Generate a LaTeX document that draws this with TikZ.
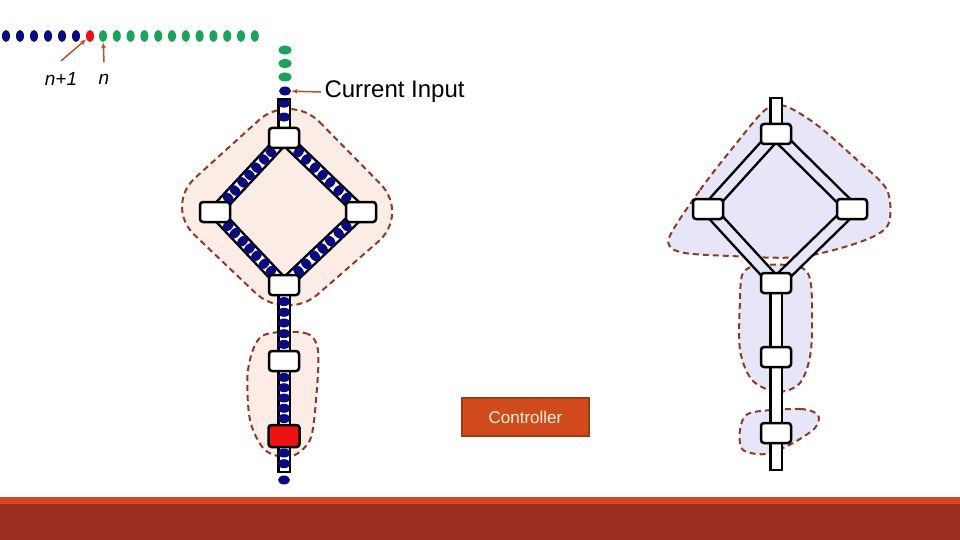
\documentclass[tikz,border=0pt]{standalone}
\usepackage{fontspec}
\setmainfont{Liberation Sans}
\usetikzlibrary{arrows.meta, shapes.geometric}

\definecolor{chainblue}{HTML}{0B0B7F}
\definecolor{bitgreen}{HTML}{1BA35A}
\definecolor{bitred}{HTML}{EE1111}
\definecolor{hullpink}{HTML}{FBECE6}
\definecolor{hullblue}{HTML}{E6E6F8}
\definecolor{hullline}{HTML}{8E3B24}
\definecolor{arrowbrown}{HTML}{C0502A}
\definecolor{ctrlfill}{HTML}{D04A1C}
\definecolor{ctrlborder}{HTML}{A03A14}
\definecolor{ctrltext}{HTML}{FFF1DC}
\definecolor{barorange}{HTML}{D24A1F}
\definecolor{barred}{HTML}{9B2D20}

\pgfdeclarelayer{hulls}
\pgfdeclarelayer{tracks}
\pgfsetlayers{hulls,tracks,main}

\tikzset{
  cell/.style={draw, line width=2.5, rounded corners=3, fill=white, minimum width=30, minimum height=20, inner sep=0},
  hull/.style={draw=hullline, line width=2, dash pattern=on 6pt off 4pt},
  track/.style={line width=2.5, double=white, double distance=9},
  bit/.style={ellipse, fill=#1, inner sep=0, minimum width=8, minimum height=12},
  tbit/.style={ellipse, fill=chainblue, inner sep=0, minimum width=9, minimum height=12.5, sloped},
  pointer/.style={arrowbrown, line width=1.5, -{Latex[length=6, width=5]}},
}

\begin{document}
\begin{tikzpicture}[x=1pt, y=-1pt]
    \useasboundingbox (0,0) rectangle (960,540);
    % barra inferior
    \fill[barorange] (0,497) rectangle (960,504);
    \fill[barred] (0,504) rectangle (960,540);

    % fila de bits
    \foreach \i in {0,...,5}
        \node[bit=chainblue] (b\i) at (6+14*\i,36) {};
    \node[bit=bitred] (bn1) at (90,36) {};
    \foreach \k in {0,...,11}
        \node[bit=bitgreen] (g\k) at (103+13.8*\k,36) {};
    \foreach \k/\y in {0/50,1/63.5,2/77}
        \node[bit=bitgreen, minimum width=13, minimum height=9] (c\k) at (285,\y) {};
    \node[bit=chainblue, minimum width=12, minimum height=9] (cur) at (285,91) {};

    \node[font=\itshape\fontsize{19}{19}\selectfont] (np1) at (61,79) {n+1};
    \node[font=\itshape\fontsize{19}{19}\selectfont] (nn) at (104,79) {n};
    \draw[pointer] ([yshift=8]np1.north) -- (bn1);
    \draw[pointer] ([yshift=8]nn.north) -- (g0);

    \node[anchor=west, font=\fontsize{24}{24}\selectfont] (curtxt) at (321,92) {Current Input};
    \draw[pointer] (curtxt.west) -- (cur);

    % cadena izquierda
    \node[cell] (ltop) at (284,138) {};
    \node[cell] (lleft) at (215,212) {};
    \node[cell] (lright) at (361,212) {};
    \node[cell] (lbot) at (284,285) {};
    \node[cell] (lmid) at (284,361) {};
    \node[cell, fill=bitred, minimum width=31, minimum height=22] (lred) at (284,436) {};
    \coordinate (ltopend) at (284,99);
    \coordinate (lend) at (284,472);
    \node[bit=chainblue, minimum width=12, minimum height=9] (lout) at (284,480) {};

    % cadena derecha
    \node[cell] (rtop) at (776,134) {};
    \node[cell] (rleft) at (708,209) {};
    \node[cell] (rright) at (852,209) {};
    \node[cell] (rbot) at (776,283) {};
    \node[cell] (rmid) at (776,357) {};
    \node[cell] (rlow) at (776,433) {};
    \coordinate (rtopend) at (776,98);
    \coordinate (rend) at (776,470);

    \node[draw=ctrlborder, line width=1.2, fill=ctrlfill, text=ctrltext, minimum width=127, minimum height=38,
          font=\fontsize{17}{17}\selectfont] (ctrl) at (525.5,417) {Controller};

    \begin{pgfonlayer}{hulls}
        \draw[hull, fill=hullpink, rounded corners=42] (290,92) -- (410,214) -- (286,322) -- (164,206) -- cycle;
        \draw[hull, fill=hullpink] plot[smooth cycle] coordinates
            {(262,336) (305,333) (318,350) (316,400) (310,440) (290,457) (265,450) (250,420) (248,370)};
        \draw[hull, fill=hullblue] plot[smooth cycle] coordinates
            {(669,238) (700,190) (735,145) (765,110) (785,106) (817,125) (857,160) (887,190)
             (888,225) (860,242) (800,257) (730,256) (680,252)};
        \draw[hull, fill=hullblue] plot[smooth cycle] coordinates
            {(743,273) (760,265) (800,267) (811,285) (811,350) (800,383) (777,392) (752,380) (740,350) (740,300)};
        \draw[hull, fill=hullblue] plot[smooth cycle] coordinates
            {(750,413) (800,409) (818,415) (815,428) (793,443) (767,454) (743,450) (740,430)};
    \end{pgfonlayer}

    \begin{pgfonlayer}{tracks}
        \draw[track] (ltopend) -- (ltop) foreach \t in {0.15,0.65} {node[tbit, pos=\t] {}};
        \foreach \a/\b in {ltop/lleft, ltop/lright, lleft/lbot, lright/lbot}
            \draw[track] (\a.center) -- (\b.center)
                foreach \t in {0.19,0.29,0.4,0.5,0.6,0.71,0.81} {node[tbit, pos=\t] {}};
        \foreach \a/\b in {lbot/lmid, lmid/lred}
            \draw[track] (\a) -- (\b) foreach \t in {0.1,0.3,0.5,0.7,0.9} {node[tbit, pos=\t] {}};
        \draw[track] (lred) -- (lend) foreach \t in {0.2,0.65} {node[tbit, pos=\t] {}};
        % lados del rombo derecho
        \foreach \a/\b in {rtop/rleft, rtop/rright, rleft/rbot, rright/rbot}
            \draw[track, double=hullblue] (\a.center) -- (\b.center);
        \draw[track] (rtopend) -- (rtop);
        \draw[track] (rbot) -- (rmid);
        \draw[track] (rmid) -- (rlow);
        \draw[track] (rlow) -- (rend);
        \foreach \e in {ltopend, lend, rtopend, rend}
            \draw[line width=2.5] ([xshift=-7]\e) -- ([xshift=7]\e); % tapa
    \end{pgfonlayer}
\end{tikzpicture}
\end{document}
